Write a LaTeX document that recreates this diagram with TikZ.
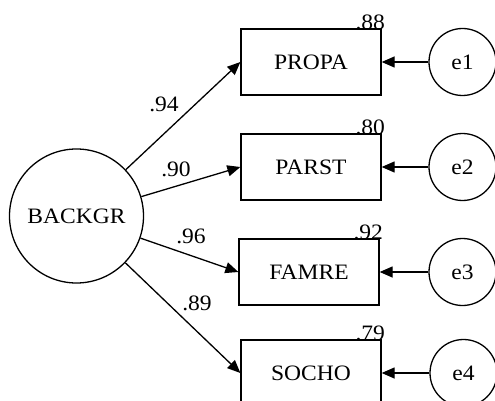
\documentclass[tikz,border=0pt]{standalone}
\usepackage{fontspec}
\setmainfont[FakeStretch=1.07]{Liberation Serif}
\usetikzlibrary{arrows.meta}

\begin{document}
\begin{tikzpicture}[x=1pt, y=-1pt, line width=1.3pt,
		font=\fontsize{22}{25}\selectfont,
		latent/.style={draw, circle, inner sep=0pt, minimum size=134pt},
		errvar/.style={draw, circle, inner sep=0pt, minimum size=67pt},
		observed/.style={draw, rectangle, minimum width=140pt, minimum height=66pt, inner sep=0pt},
		path/.style={-{Triangle[length=13pt, width=11pt]}},
		rsq/.style={anchor=base east, inner sep=0pt, xshift=4pt, yshift=-1pt},
		coef/.style={inner sep=0pt}]
			\useasboundingbox (0,0) rectangle (495,401);
			\node[latent] (backgr) at (76.5,216) {BACKGR};
			\node[observed] (propa) at (311,62) {PROPA};
			\node[observed] (parst) at (311,167) {PARST};
			\node[observed] (famre) at (309,272) {FAMRE};
			\node[observed] (socho) at (311,373) {SOCHO};
			\node[errvar] (e1) at (462.5,62) {e1};
			\node[errvar] (e2) at (462.5,167) {e2};
			\node[errvar] (e3) at (462.5,272) {e3};
			\node[errvar] (e4) at (463.5,373) {e4};
			\node[rsq] (r1) at (propa.north east) {.88};
			\node[rsq] (r2) at (parst.north east) {.80};
			\node[rsq] (r3) at (famre.north east) {.92};
			\node[rsq] (r4) at (socho.north east) {.79};
			\draw[path] (backgr) -- (propa.west);
			\draw[path] (backgr) -- (parst.west);
			\draw[path] (backgr) -- (famre.west);
			\draw[path] (backgr) -- (socho.west);
			\node[coef] (c1) at (164,104) {.94};
			\node[coef] (c2) at (176,169) {.90};
			\node[coef] (c3) at (191,236) {.96};
			\node[coef] (c4) at (197,303) {.89};
			\draw[path] (e1) -- (propa);
			\draw[path] (e2) -- (parst);
			\draw[path] (e3) -- (famre);
			\draw[path] (e4) -- (socho);
		\end{tikzpicture}
\end{document}
